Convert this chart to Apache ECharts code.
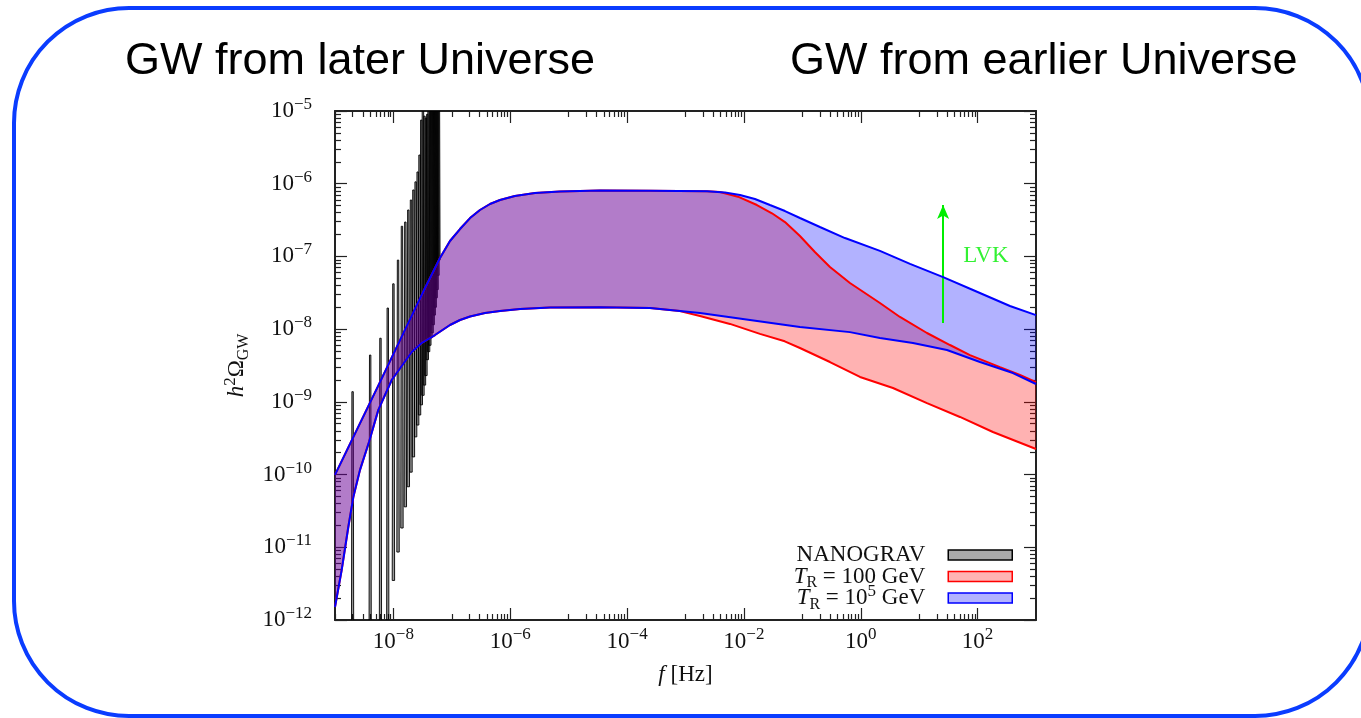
<!DOCTYPE html>
<html><head><meta charset="utf-8">
<script src="https://cdn.jsdelivr.net/npm/echarts@6/dist/echarts.min.js"></script>
<style>html,body{margin:0;padding:0;background:#fff}#c{width:1361px;height:718px}</style>
</head><body><div id="c"></div>
<script>
// ---------------- data ----------------
const xLabelValues = [1e-8, 1e-6, 1e-4, 1e-2, 1e0, 1e2];
const yLabelValues = [1e-12, 1e-11, 1e-10, 1e-9, 1e-8, 1e-7, 1e-6, 1e-5];

// T_R = 10^5 GeV band
const upperBlue = [
  [1e-9, 9.9e-11], [5.89e-9, 1.87e-9], [3.48e-8, 3.68e-8], [6.27e-8, 9.5e-8],
  [9.3e-8, 1.63e-7], [1.38e-7, 2.38e-7], [2.05e-7, 3.37e-7], [3.03e-7, 4.35e-7],
  [4.5e-7, 5.26e-7], [6.67e-7, 5.97e-7], [1.2e-6, 6.78e-7], [2.65e-6, 7.45e-7],
  [7.1e-6, 7.8e-7], [3.43e-5, 8.06e-7], [2.47e-4, 8.0e-7], [2.33e-3, 7.9e-7],
  [4.74e-3, 7.57e-7], [8.57e-3, 7.0e-7], [1.545e-2, 6.17e-7], [2.79e-2, 5.09e-7],
  [5.05e-2, 4.21e-7], [9.1e-2, 3.38e-7], [0.2, 2.54e-7], [0.537, 1.79e-7],
  [2.13, 1.19e-7], [6.97, 7.9e-8], [25.7, 5.2e-8], [83.3, 3.45e-8], [358, 2.08e-8], [1000, 1.56e-8]
];
const lowerBlue = [
  [1e-9, 1.51e-12], [1.30e-9, 4.86e-12], [1.69e-9, 1.9e-11], [2.06e-9, 4.9e-11],
  [2.68e-9, 1.16e-10], [3.82e-9, 2.8e-10], [5.5e-9, 7.7e-10], [9.35e-9, 2.0e-9],
  [2.06e-8, 4.85e-9], [3.05e-8, 6.45e-9], [5.15e-8, 8.3e-9], [9.3e-8, 1.14e-8],
  [1.38e-7, 1.335e-8], [2.05e-7, 1.49e-8], [3.69e-7, 1.67e-8], [6.67e-7, 1.77e-8],
  [1.47e-6, 1.89e-8], [4.79e-6, 1.98e-8], [3.43e-5, 2.0e-8], [2.47e-4, 1.95e-8],
  [1.77e-3, 1.67e-8], [1.27e-2, 1.34e-8], [9.1e-2, 1.07e-8], [0.653, 9.1e-9],
  [2.13, 7.55e-9], [7.83, 6.45e-9], [29.9, 5.16e-9], [110, 3.53e-9], [403, 2.49e-9], [1000, 1.76e-9]
];
// T_R = 100 GeV band
const upperRed = [
  [1e-9, 9.9e-11], [5.89e-9, 1.87e-9], [3.48e-8, 3.68e-8], [6.27e-8, 9.5e-8],
  [9.3e-8, 1.63e-7], [1.38e-7, 2.38e-7], [2.05e-7, 3.37e-7], [3.03e-7, 4.35e-7],
  [4.5e-7, 5.26e-7], [6.67e-7, 5.97e-7], [1.2e-6, 6.78e-7], [2.65e-6, 7.45e-7],
  [7.1e-6, 7.8e-7], [3.43e-5, 8.06e-7], [2.47e-4, 8.0e-7], [2.33e-3, 7.9e-7],
  [3.89e-3, 7.7e-7], [7.9e-3, 6.63e-7], [1.67e-2, 5.09e-7], [3.02e-2, 3.92e-7],
  [5.05e-2, 2.97e-7], [9.1e-2, 1.91e-7], [0.164, 1.15e-7], [0.297, 7.15e-8],
  [0.653, 4.31e-8], [2.13, 2.29e-8], [4.69, 1.47e-8], [13.6, 8.85e-9],
  [33.7, 6.05e-9], [74, 4.4e-9], [241.5, 3.0e-9], [531, 2.34e-9], [1000, 1.87e-9]
];
const lowerRed = [
  [1e-9, 1.51e-12], [1.30e-9, 4.86e-12], [1.69e-9, 1.9e-11], [2.06e-9, 4.9e-11],
  [2.68e-9, 1.16e-10], [3.82e-9, 2.8e-10], [5.5e-9, 7.7e-10], [9.35e-9, 2.0e-9],
  [2.06e-8, 4.85e-9], [3.05e-8, 6.45e-9], [5.15e-8, 8.3e-9], [9.3e-8, 1.14e-8],
  [1.38e-7, 1.335e-8], [2.05e-7, 1.49e-8], [3.69e-7, 1.67e-8], [6.67e-7, 1.77e-8],
  [1.47e-6, 1.89e-8], [4.79e-6, 1.98e-8], [3.43e-5, 2.0e-8], [2.47e-4, 1.95e-8],
  [8.0e-4, 1.77e-8], [1.77e-3, 1.52e-8], [5.77e-3, 1.18e-8], [1.88e-2, 8.6e-9],
  [5.0e-2, 6.8e-9], [9.1e-2, 5.5e-9], [0.297, 3.53e-9], [0.97, 2.2e-9], [3.56, 1.55e-9],
  [13.6, 9.6e-10], [49.9, 6.2e-10], [183, 3.85e-10], [1000, 2.25e-10]
];
// NANOGRAV frequency bins with lower / upper values of each spike
const nanoFreq = [2e-9, 4e-9, 6e-9, 8e-9, 1.0e-8, 1.2e-8, 1.4e-8, 1.6e-8, 1.8e-8, 2.0e-8,
  2.2e-8, 2.4e-8, 2.6e-8, 2.8e-8, 3.0e-8, 3.2e-8, 3.4e-8, 3.6e-8, 3.8e-8, 4.0e-8,
  4.2e-8, 4.4e-8, 4.6e-8, 4.8e-8, 5.0e-8, 5.2e-8, 5.4e-8, 5.6e-8, 5.8e-8, 6.0e-8];
const nanoLow = [1e-13, 1e-13, 1e-13, 1e-13, 3.5e-12, 8.6e-12, 1.84e-11, 3.6e-11, 6.8e-11, 1.08e-10,
  1.75e-10, 3.3e-10, 4.8e-10, 6.6e-10, 9.1e-10, 1.23e-9, 1.7e-9, 2.3e-9, 3.8e-9, 4.9e-9,
  6.0e-9, 7.6e-9, 8.9e-9, 1.15e-8, 1.56e-8, 2.0e-8, 2.7e-8, 3.5e-8, 5.5e-8, 8.9e-8];
const nanoHigh = [1.38e-9, 4.4e-9, 7.5e-9, 1.95e-8, 4.2e-8, 8.9e-8, 2.6e-7, 2.97e-7, 4.35e-7, 5.97e-7,
  8.2e-7, 1.06e-6, 1.45e-6, 2.48e-6, 7.5e-6, 2e-5, 8.5e-6, 8e-6, 9e-6, 2e-5,
  2e-5, 2e-5, 2e-5, 2e-5, 2e-5, 2e-5, 2e-5, 2e-5, 2e-5, 2e-5];
// LVK arrow and label
const lvkArrow = [[25.7, 1.21e-8], [25.7, 5.1e-7]];
const lvkLabel = [139, 1.01e-7];

const legendNames = ['NANOGRAV', 'T_R = 100 GeV', 'T_R = 10^5 GeV'];

// ---------------- helpers ----------------
const SERIF = '"Liberation Serif", "DejaVu Serif", serif';
const SANS = '"Liberation Sans", Arial, sans-serif';
const INK = '#111';
const FS = 23;
const richMath = {
  b: { fontFamily: SERIF, fontSize: FS, padding: [5, 0, 5, 0], color: INK },
  i: { fontFamily: SERIF, fontSize: FS, fontStyle: 'italic', padding: [5, 0, 5, 0], color: INK },
  s: { fontFamily: SERIF, fontSize: 17, padding: [0, 0, 13, 0], color: INK },
  u: { fontFamily: SERIF, fontSize: 16, padding: [13, 0, 0, 0], color: INK }
};
function powLabel(v) {
  const e = Math.round(Math.log10(v));
  return '{b|10}{s|' + (e < 0 ? '\u2212' + (-e) : e) + '}';
}
const xMinor = [];
[-9, -7, -5, -3, -1, 1].forEach(n => { for (let k = 1; k <= 9; k++) xMinor.push(k * Math.pow(10, n)); });
const yMinor = [];
for (let n = -12; n <= -6; n++) for (let k = 2; k <= 9; k++) yMinor.push(k * Math.pow(10, n));

const AX = { color: '#222', width: 2 };
function axisBase(type, extra) {
  return Object.assign({
    type: 'log', logBase: 10,
    min: type === 'x' ? 1e-9 : 1e-12, max: type === 'x' ? 1e3 : 1e-5,
    splitLine: { show: false }, axisLine: { show: false },
    axisLabel: { show: false }, axisTick: { show: false }
  }, extra);
}
function tick(vals, len) {
  return { show: true, inside: true, length: len, customValues: vals, lineStyle: { color: '#222', width: 1.2 } };
}

function bandRender(upper, lower, fill) {
  return function (params, api) {
    if (params.dataIndex !== 0) return null;
    const pts = upper.map(p => api.coord(p)).concat(lower.slice().reverse().map(p => api.coord(p)));
    return { type: 'polygon', shape: { points: pts }, style: { fill: fill } };
  };
}
function spikeRender(params, api) {
  const f = api.value(0);
  const pl = api.coord([f, api.value(1)]);
  const ph = api.coord([f, api.value(2)]);
  return {
    type: 'polygon',
    shape: { points: [[pl[0] - 1.2, pl[1]], [ph[0] - 0.7, ph[1]], [ph[0] + 0.7, ph[1]], [pl[0] + 1.2, pl[1]]] },
    style: { fill: 'rgba(0,0,0,0.4)', stroke: '#000', lineWidth: 0.9 }
  };
}

const ZW = '\u200b';
const chart = echarts.init(document.getElementById('c'), null, { renderer: 'canvas' });
chart.setOption({
  animation: false,
  backgroundColor: '#fff',
  grid: { left: 335, top: 111, right: 325, bottom: 98, containLabel: false },
  xAxis: [
    axisBase('x', {
      position: 'bottom',
      axisLine: { show: true, lineStyle: AX },
      axisTick: tick(xLabelValues, 12),
      axisLabel: { show: true, customValues: xLabelValues, margin: 5, formatter: powLabel, rich: richMath },
      name: '{i|f}{b| [Hz]}', nameLocation: 'middle', nameGap: 38,
      nameTextStyle: { rich: richMath }
    }),
    axisBase('x', { position: 'top', axisLine: { show: true, lineStyle: AX }, axisTick: tick(xLabelValues, 12) }),
    axisBase('x', { position: 'top', axisTick: tick(xMinor, 6) }),
    axisBase('x', { position: 'bottom', axisTick: tick(xMinor, 6) })
  ],
  yAxis: [
    axisBase('y', {
      position: 'left',
      axisLine: { show: true, lineStyle: AX },
      axisTick: tick(yLabelValues, 12),
      axisLabel: { show: true, customValues: yLabelValues, margin: 23, formatter: powLabel, rich: richMath },
      name: '{i|h}{s|2}{b|\u03A9}{u|GW}', nameLocation: 'middle', nameGap: 78, nameRotate: 90,
      nameTextStyle: { rich: richMath }
    }),
    axisBase('y', { position: 'right', axisLine: { show: true, lineStyle: AX }, axisTick: tick(yLabelValues, 12) }),
    axisBase('y', { position: 'right', axisTick: tick(yMinor, 6) }),
    axisBase('y', { position: 'left', axisTick: tick(yMinor, 6) })
  ],
  legend: {
    show: true, orient: 'vertical', align: 'right', right: 343, top: 535,
    itemWidth: 64, itemHeight: 10, itemGap: -8, selectedMode: false,
    data: [
      { name: legendNames[0], icon: 'rect', itemStyle: { color: '#aaaaaa', borderColor: '#000', borderWidth: 1.5 } },
      { name: legendNames[1], icon: 'rect', itemStyle: { color: '#ffb3b3', borderColor: '#ff0000', borderWidth: 1.5 } },
      { name: legendNames[2], icon: 'rect', itemStyle: { color: '#b3b3ff', borderColor: '#0000ff', borderWidth: 1.5 } }
    ],
    formatter: function (name) {
      if (name === legendNames[0]) return '{u|' + ZW + '}{b|NANOGRAV}{s|' + ZW + '}';
      if (name === legendNames[1]) return '{i|T}{u|R}{b| = 100 GeV}{s|' + ZW + '}';
      return '{i|T}{u|R}{b| = 10}{s|5}{b| GeV}';
    },
    textStyle: { padding: [0, 18, 0, 0], rich: richMath }
  },
  series: [
    {
      type: 'custom', name: legendNames[0], clip: true, z: 1,
      data: nanoFreq.map((f, i) => [f, nanoLow[i], nanoHigh[i]]),
      encode: { x: 0, y: [1, 2] },
      renderItem: spikeRender
    },
    {
      type: 'custom', name: legendNames[1], clip: true, z: 2,
      data: [upperRed[0]], encode: { x: 0, y: 1 },
      renderItem: bandRender(upperRed, lowerRed, 'rgba(255,0,0,0.3)')
    },
    {
      type: 'custom', name: legendNames[2], clip: true, z: 3,
      data: [upperBlue[0]], encode: { x: 0, y: 1 },
      renderItem: bandRender(upperBlue, lowerBlue, 'rgba(0,0,255,0.3)')
    },
    { type: 'line', name: legendNames[1], data: upperRed, showSymbol: false, z: 4, lineStyle: { color: '#ff0000', width: 2 } },
    { type: 'line', name: legendNames[1], data: lowerRed, showSymbol: false, z: 4, lineStyle: { color: '#ff0000', width: 2 } },
    { type: 'line', name: legendNames[2], data: upperBlue, showSymbol: false, z: 5, lineStyle: { color: '#0000ff', width: 2 } },
    { type: 'line', name: legendNames[2], data: lowerBlue, showSymbol: false, z: 5, lineStyle: { color: '#0000ff', width: 2 } },
    {
      type: 'line', name: 'LVK', data: [], z: 6,
      markLine: {
        silent: true, symbol: ['none', 'arrow'], symbolSize: [9, 14],
        lineStyle: { color: '#00ee00', width: 2, type: 'solid' },
        label: { show: false },
        data: [[{ coord: lvkArrow[0] }, { coord: lvkArrow[1] }]]
      }
    },
    {
      type: 'scatter', name: 'LVK label', data: [lvkLabel], symbolSize: 1, z: 6,
      itemStyle: { color: 'rgba(0,0,0,0)' },
      label: { show: true, position: 'inside', formatter: 'LVK', color: '#00ee00', fontFamily: SERIF, fontSize: FS }
    }
  ],
  graphic: [
    { type: 'rect', silent: true, z: -10, shape: { x: 14, y: 8, width: 1356, height: 708, r: 115 },
      style: { fill: 'none', stroke: '#0a3cff', lineWidth: 4 } },
    { type: 'text', x: 125, y: 62, silent: true,
      style: { text: 'GW from later Universe', fontFamily: SANS, fontSize: 45, fill: '#000', align: 'left', verticalAlign: 'middle' } },
    { type: 'text', x: 790, y: 62, silent: true,
      style: { text: 'GW from earlier Universe', fontFamily: SANS, fontSize: 45, fill: '#000', align: 'left', verticalAlign: 'middle' } }
  ]
});
</script>
</body></html>
